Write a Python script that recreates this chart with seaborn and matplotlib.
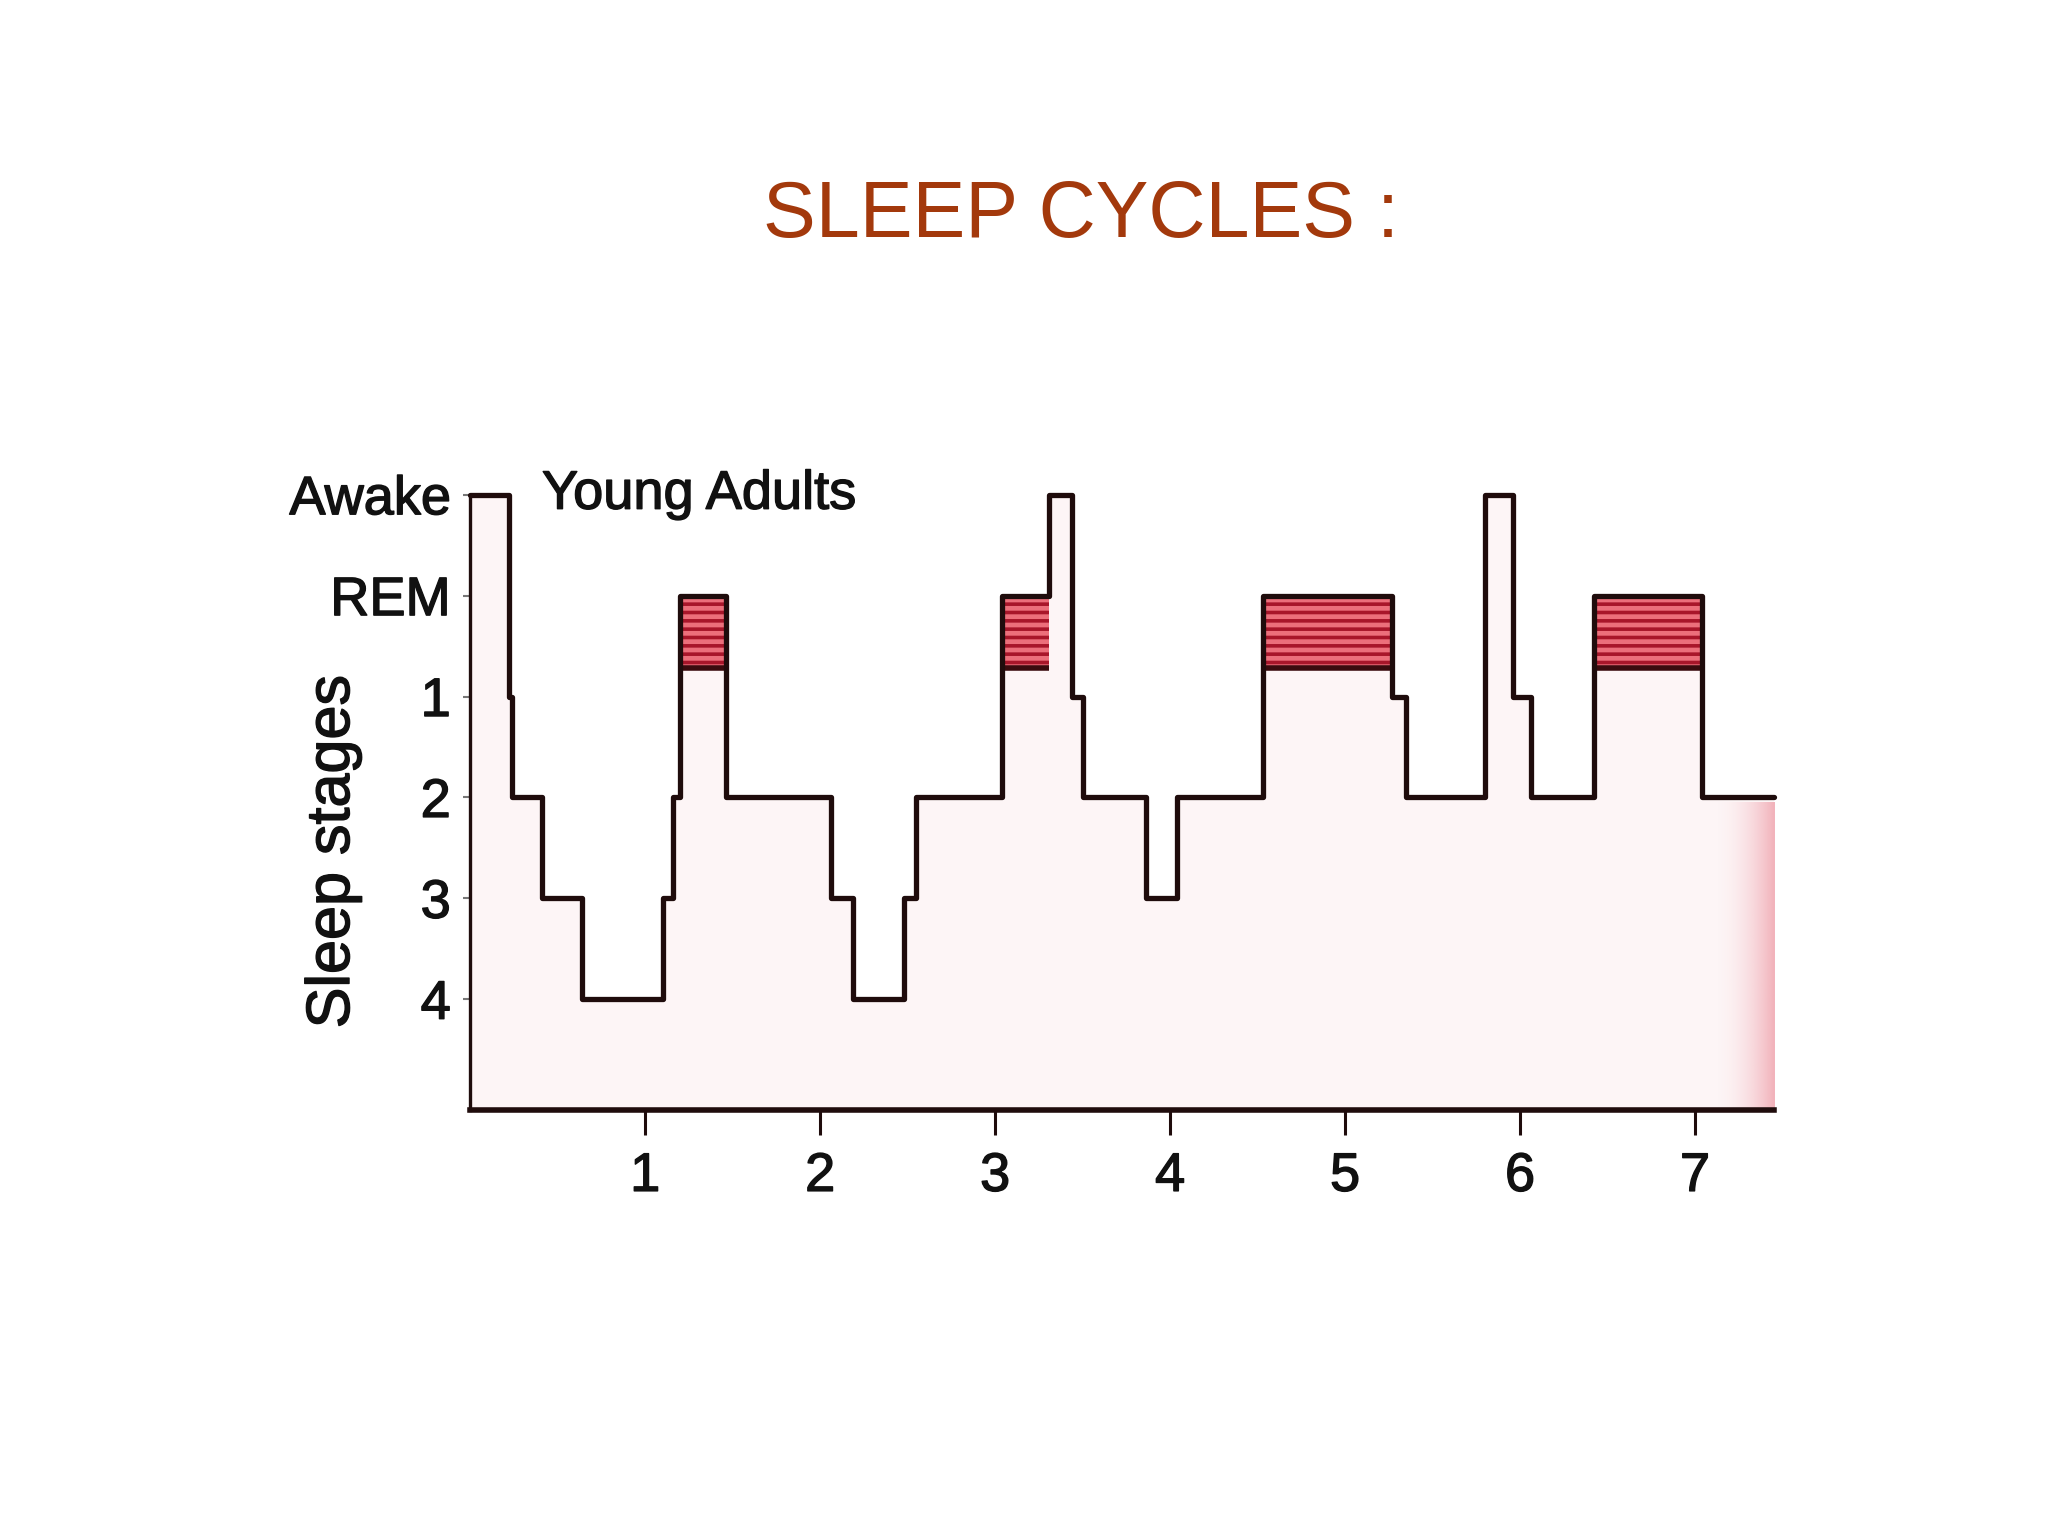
import numpy as np
import matplotlib
matplotlib.use("Agg")
import matplotlib.pyplot as plt
import matplotlib.patheffects as pe
from matplotlib.colors import to_rgb
import seaborn as sns

# --- Data (hours of sleep, stage per segment) ---
stage_labels = ["Awake", "REM", "1", "2", "3", "4"]
# numeric depth: Awake=0, REM=1, stage1=2 ... stage4=5
seg_start = [0.0, 0.22, 0.24, 0.41, 0.64, 1.10, 1.16, 1.20, 1.46, 2.06, 2.19, 2.48,
             2.55, 3.04, 3.31, 3.44, 3.50, 3.86, 4.04, 4.53, 5.27, 5.35, 5.80, 5.96,
             6.06, 6.42, 7.04]
seg_stage = ["Awake", "1", "2", "3", "4", "3", "2", "REM", "2", "3", "4", "3",
             "2", "REM", "Awake", "1", "2", "3", "2", "REM", "1", "2", "Awake", "1",
             "2", "REM", "2"]
end_hour = 7.45
hour_ticks = [1, 2, 3, 4, 5, 6, 7]

# --- Style ---
sns.set_theme(style="white")
plt.rcParams["font.family"] = ["Liberation Sans", "DejaVu Sans"]
plt.rcParams["hatch.linewidth"] = 2.6

line_col = "#1f0c0c"
text_col = "#111111"
title_col = "#a3390c"
heavy = [pe.withStroke(linewidth=1.0, foreground=text_col)]

depth = {lab: i for i, lab in enumerate(stage_labels)}
x = np.array(seg_start + [end_hour])
y = np.array([depth[s] for s in seg_stage] + [depth[seg_stage[-1]]])
bottom = 6.1
band = 0.72  # thickness of the shaded REM bar

fig = plt.figure(figsize=(20.48, 15.36), dpi=100)
ax = fig.add_axes([0.2296, 0.2772, 0.6365, 0.404])

# faint fill under the hypnogram
ax.fill_between(x, y, bottom, step="post", color="#fdf5f6", lw=0, zorder=1)

# pinkish smear near the right edge of the scan
ramp = np.linspace(0, 1, 80) ** 2
smear = np.zeros((1, 80, 4))
smear[..., :3] = to_rgb("#ee9aa5")
smear[..., 3] = ramp * 0.75
ax.imshow(smear, extent=(7.1, end_hour, bottom, 3.05), aspect="auto",
          zorder=1.5, interpolation="bilinear")

# shaded REM periods
for i, s in enumerate(seg_stage):
    if s == "REM":
        x0, x1 = x[i], x[i + 1]
        ax.fill_between([x0, x1], 1, 1 + band, color="#ec6f7b", hatch="--",
                        edgecolor="#a8162a", lw=0, zorder=2)
        ax.hlines(1 + band, x0, x1, color="#3a0b0e", lw=4, zorder=3)

sns.lineplot(x=x, y=y, drawstyle="steps-post", estimator=None, sort=False,
             color=line_col, lw=3.8, ax=ax, zorder=4, clip_on=False)

ax.set_xlim(0, end_hour)
ax.set_ylim(bottom, -0.05)

ax.set_yticks(range(len(stage_labels)))
ax.set_yticklabels(stage_labels)
ax.set_xticks(hour_ticks)
ax.set_xticklabels([str(h) for h in hour_ticks])

ax.tick_params(axis="y", direction="out", length=5, width=1.5, color="#777777",
               pad=9, labelsize=39, labelcolor=text_col, left=True)
ax.tick_params(axis="x", direction="out", length=18, width=2.2, color=line_col,
               pad=12, labelsize=39, labelcolor=text_col, bottom=True)
for lab in ax.get_xticklabels() + ax.get_yticklabels():
    lab.set_path_effects(heavy)

for side in ["top", "right"]:
    ax.spines[side].set_visible(False)
ax.spines["left"].set_bounds(0, bottom)
ax.spines["left"].set_color(line_col)
ax.spines["left"].set_linewidth(2.4)
ax.spines["bottom"].set_color(line_col)
ax.spines["bottom"].set_linewidth(4)

ax.set_xlabel("")
ax.set_ylabel("Sleep stages", fontsize=44, color=text_col, path_effects=heavy)
ax.yaxis.set_label_coords(-0.083, 0.417)

ax.text(0.41, 0.0, "Young Adults", fontsize=39, color=text_col,
        va="center", ha="left", clip_on=False, path_effects=heavy)

fig.text(0.528, 0.859, "SLEEP CYCLES :", fontsize=57, color=title_col,
         ha="center", va="center")

fig.savefig("out.png", dpi=100, facecolor="white")
